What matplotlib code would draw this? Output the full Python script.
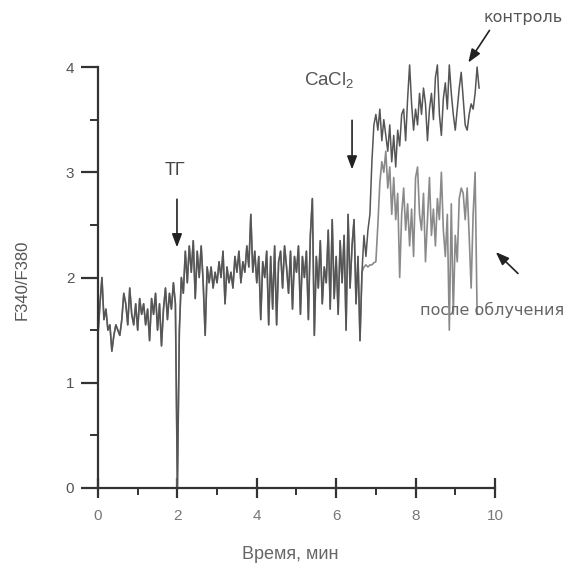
import numpy as np
import matplotlib
matplotlib.use("Agg")
import matplotlib.pyplot as plt
from matplotlib.ticker import MultipleLocator

plt.rcParams['font.family'] = ['Liberation Sans', 'DejaVu Sans']
plt.rcParams['mathtext.default'] = 'regular'

# shared part of both traces (0 .. 6.65 min, step 0.05 min)
t_common = np.round(np.arange(0, 6.651, 0.05), 2)
v_common = [
    1.45, 1.75, 2.00, 1.60, 1.70, 1.50, 1.55, 1.30, 1.45, 1.55,
    1.50, 1.45, 1.60, 1.85, 1.75, 1.55, 1.90, 1.65, 1.55, 1.75,
    1.50, 1.80, 1.65, 1.75, 1.55, 1.70, 1.40, 1.80, 1.65, 1.85,
    1.50, 1.75, 1.35, 1.70, 1.90, 1.60, 1.85, 1.70, 1.95, 1.75,
    0.00, 1.50, 2.00, 1.85, 2.25, 1.95, 2.30, 2.05, 2.35, 1.80,
    2.25, 2.00, 2.30, 1.95, 1.45, 2.10, 1.95, 2.10, 1.90, 2.05,
    1.95, 2.15, 2.00, 2.25, 1.75, 2.10, 1.95, 2.05, 1.90, 2.20,
    2.05, 2.25, 1.95, 2.15, 2.05, 2.30, 2.10, 2.60, 2.05, 2.25,
    1.95, 2.20, 1.60, 2.15, 2.00, 2.25, 1.55, 2.20, 1.70, 2.30,
    1.55, 2.15, 2.25, 1.90, 2.30, 2.10, 1.85, 2.25, 1.70, 2.20,
    2.05, 2.30, 1.65, 2.20, 2.00, 2.25, 1.60, 2.40, 2.75, 1.45,
    2.20, 1.90, 2.35, 1.75, 2.10, 1.95, 2.45, 1.70, 2.55, 1.80,
    2.20, 1.65, 2.35, 1.95, 2.40, 1.50, 2.60, 1.90, 2.30, 2.55,
    1.75, 2.20, 1.40, 2.05,
]

# control trace after 6.65 min
t_ctrl = np.round(np.arange(6.70, 9.601, 0.05), 2)
v_ctrl = [
    2.40, 2.20, 2.45, 2.60, 3.10, 3.45, 3.55, 3.40, 3.60, 3.30,
    3.50, 3.35, 3.20, 3.45, 3.10, 3.35, 3.05, 3.40, 3.25, 3.55,
    3.60, 3.30, 3.70, 4.02, 3.65, 3.40, 3.60, 3.45, 3.75, 3.55,
    3.80, 3.65, 3.30, 3.60, 3.75, 3.50, 3.90, 4.02, 3.55, 3.35,
    3.70, 3.85, 3.60, 4.02, 3.75, 3.55, 3.40, 3.60, 3.80, 3.95,
    3.70, 3.45, 3.40, 3.55, 3.65, 3.60, 3.75, 4.00, 3.80,
]

# irradiated trace after 6.65 min
t_irr = np.round(np.arange(6.70, 9.551, 0.05), 2)
v_irr = [
    2.10, 2.12, 2.10, 2.12, 2.12, 2.14, 2.15, 2.50, 2.90, 3.10,
    3.00, 3.20, 2.85, 3.05, 2.60, 2.95, 2.55, 2.80, 2.00, 2.60,
    2.85, 2.45, 2.70, 2.30, 2.65, 2.20, 2.95, 3.05, 2.60, 2.45,
    2.80, 2.15, 2.55, 2.95, 2.40, 2.65, 2.30, 2.75, 2.55, 3.00,
    2.45, 2.20, 2.60, 1.50, 2.70, 1.65, 2.40, 2.15, 2.75, 2.85,
    2.80, 2.55, 2.85, 2.40, 1.90, 2.60, 3.00, 1.65,
]

x_ticks = [0, 2, 4, 6, 8, 10]
y_ticks = [0, 1, 2, 3, 4]

fig = plt.figure(figsize=(5.74, 5.69), dpi=100)
ax = fig.add_axes([0.1707, 0.1424, 0.6916, 0.7398])

t_c = np.concatenate([t_common, t_ctrl])
v_c = np.concatenate([v_common, v_ctrl])
t_i = np.concatenate([t_common, t_irr])
v_i = np.concatenate([v_common, v_irr])

ax.plot(t_i, v_i, color='#8a8a8a', lw=1.2, clip_on=False)
ax.plot(t_c, v_c, color='#555555', lw=1.1, clip_on=False)

ax.set_xlim(0, 10)
ax.set_ylim(0, 4)
ax.set_xticks(x_ticks)
ax.set_yticks(y_ticks)
ax.xaxis.set_minor_locator(MultipleLocator(1))
ax.yaxis.set_minor_locator(MultipleLocator(0.5))

for s in ['top', 'right']:
    ax.spines[s].set_visible(False)
for s in ['left', 'bottom']:
    ax.spines[s].set_linewidth(1.6)
    ax.spines[s].set_color('#333333')

ax.tick_params(axis='y', which='major', direction='out', length=12, width=1.6,
               color='#333333', labelsize=11, labelcolor='#555555', pad=5)
ax.tick_params(axis='y', which='minor', direction='out', length=6, width=1.4,
               color='#333333')
ax.tick_params(axis='x', which='major', direction='inout', length=14, width=1.6,
               color='#333333', labelsize=11, labelcolor='#777777', pad=8)
ax.tick_params(axis='x', which='minor', direction='out', length=5, width=1.4,
               color='#333333')

ax.set_xlabel('Время, мин', fontsize=13, color='#666666')
ax.set_ylabel('F340/F380', fontsize=12, color='#555555')
ax.xaxis.set_label_coords(0.484, -0.138)
ax.yaxis.set_label_coords(-0.172, 0.494)

arrow = dict(arrowstyle='-|>,head_length=0.8,head_width=0.3', color='#222222', lw=1.2)

ax.text(1.94, 3.02, 'ТГ', fontsize=13, color='#444444', ha='center', va='center')
ax.annotate('', xy=(1.99, 2.26), xytext=(1.99, 2.77), arrowprops=arrow, annotation_clip=False)

ax.text(5.82, 3.88, 'CaCl$_2$', fontsize=13.5, color='#555555', ha='center', va='center')
ax.annotate('', xy=(6.40, 3.00), xytext=(6.40, 3.52), arrowprops=arrow, annotation_clip=False)

ax.text(10.70, 4.47, 'контроль', fontsize=11.5, color='#555555', ha='center', va='center',
        family=['DejaVu Sans'])
ax.annotate('', xy=(9.29, 4.02), xytext=(9.90, 4.37), arrowprops=arrow, annotation_clip=False)

ax.text(9.92, 1.69, 'после облучения', fontsize=11.5, color='#666666', ha='center', va='center',
        family=['DejaVu Sans'])
ax.annotate('', xy=(9.97, 2.26), xytext=(10.63, 2.02), arrowprops=arrow, annotation_clip=False)

fig.savefig('out.png', dpi=100)
